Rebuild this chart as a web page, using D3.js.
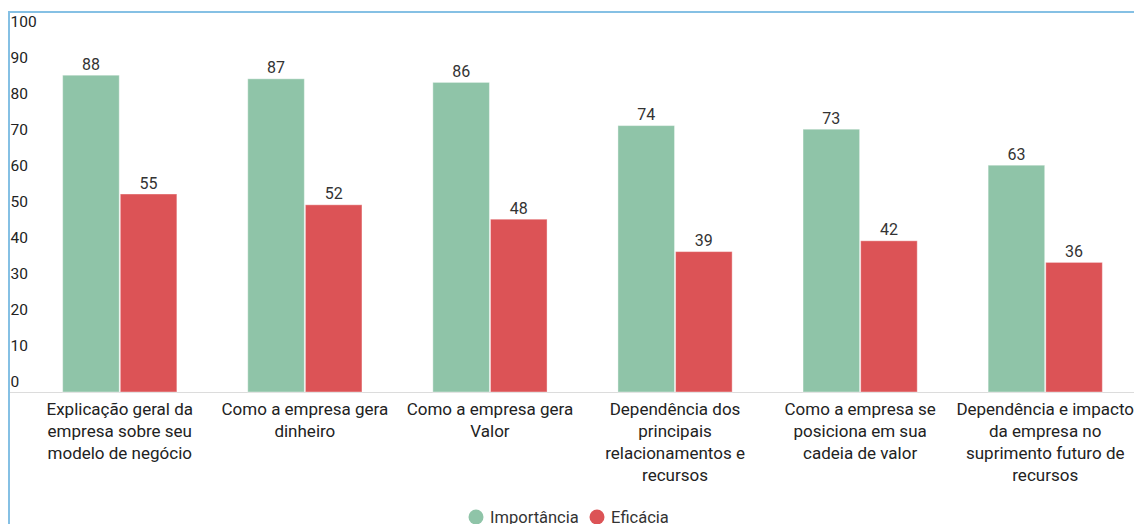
<!DOCTYPE html>
<html><head><meta charset="utf-8">
<script src="https://cdn.jsdelivr.net/npm/d3@7"></script>
<style>body{margin:0;background:#fff;}svg{display:block;font-family:Roboto,"Liberation Sans",sans-serif;}</style>
</head><body><svg id="c" width="1134" height="524"></svg>
<script>
const categories = [
  ["Explicação geral da","empresa sobre seu","modelo de negócio"],
  ["Como a empresa gera","dinheiro"],
  ["Como a empresa gera","Valor"],
  ["Dependência dos","principais","relacionamentos e","recursos"],
  ["Como a empresa se","posiciona em sua","cadeia de valor"],
  ["Dependência e impacto","da empresa no","suprimento futuro de","recursos"]
];
const seriesNames = ["Importância","Eficácia"];
const importancia = [88,87,86,74,73,63];
const eficacia = [55,52,48,39,42,36];
const yTicks = [0,10,20,30,40,50,60,70,80,90,100];
const colors = ["#8fc4a8","#dc5356"];

const svg = d3.select("#c");
const x = d3.scaleBand().domain(d3.range(categories.length)).range([27.5,1137.5]).paddingInner(0.383).paddingOuter(0.19);
const xs = d3.scaleBand().domain([0,1]).range([0,x.bandwidth()]).paddingInner(0.018);
const y = d3.scaleLinear().domain([0,100]).range([392,32]);

// frame
svg.append("line").attr("x1",9).attr("x2",1134).attr("y1",12).attr("y2",12).attr("stroke","#85c0e4").attr("stroke-width",2);
svg.append("line").attr("x1",9).attr("x2",9).attr("y1",11).attr("y2",524).attr("stroke","#85c0e4").attr("stroke-width",2);

// y tick labels
svg.append("g").selectAll("text").data(yTicks).join("text")
  .attr("x",10.5).attr("y",d=>y(d)-5).attr("font-size",15.5).attr("fill","#222").text(d=>d);

// baseline
svg.append("line").attr("x1",10).attr("x2",1134).attr("y1",y(0)+0.5).attr("y2",y(0)+0.5).attr("stroke","#dcdcdc").attr("stroke-width",1);

const data = [importancia, eficacia];
data.forEach((vals,si)=>{
  const g = svg.append("g");
  g.selectAll("rect").data(vals).join("rect")
    .attr("x",(d,i)=>x(i)+xs(si)).attr("width",xs.bandwidth())
    .attr("y",d=>y(d)).attr("height",d=>y(0)-y(d))
    .attr("fill",colors[si]).attr("stroke","#fff").attr("stroke-opacity",0.4).attr("stroke-width",1);
  g.selectAll("text").data(vals).join("text")
    .attr("x",(d,i)=>x(i)+xs(si)+xs.bandwidth()/2).attr("y",d=>y(d)-5.5)
    .attr("text-anchor","middle").attr("font-size",16).attr("fill","#333").text(d=>d);
});

// category labels
const cl = svg.append("g");
categories.forEach((lines,i)=>{
  const t = cl.append("text").attr("text-anchor","middle").attr("font-size",17).attr("fill","#222");
  lines.forEach((l,j)=>t.append("tspan").attr("x",x(i)+x.bandwidth()/2).attr("y",415+j*22).text(l));
});

// legend
const leg = svg.append("g");
const lx = [476,597];
seriesNames.forEach((n,i)=>{
  leg.append("circle").attr("cx",lx[i]).attr("cy",517).attr("r",7.5).attr("fill",colors[i]);
  leg.append("text").attr("x",lx[i]+14).attr("y",523).attr("font-size",16.5).attr("fill","#333").text(n);
});
</script></body></html>
